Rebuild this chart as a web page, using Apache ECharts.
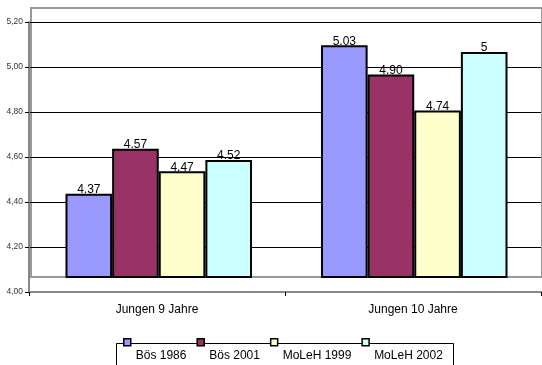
<!DOCTYPE html>
<html>
<head>
<meta charset="utf-8">
<script src="https://cdn.jsdelivr.net/npm/echarts@6/dist/echarts.min.js"></script>
<style>
  html, body { margin: 0; padding: 0; background: #fff; }
  #chart { width: 542px; height: 365px; }
</style>
</head>
<body>
<div id="chart"></div>
<script>
const categories = ['Jungen 9 Jahre', 'Jungen 10 Jahre'];
const seriesNames = ['Bös 1986', 'Bös 2001', 'MoLeH 1999', 'MoLeH 2002'];
const bos1986 = [4.37, 5.03];
const bos2001 = [4.57, 4.90];
const moleh1999 = [4.47, 4.74];
const moleh2002 = [4.52, 5];
// Beschriftungen wie im Original (4.90 mit Null, 5 ohne)
const bos1986Labels = ['4.37', '5.03'];
const bos2001Labels = ['4.57', '4.90'];
const moleh1999Labels = ['4.47', '4.74'];
const moleh2002Labels = ['4.52', '5'];
const yTicks = [4.0, 4.2, 4.4, 4.6, 4.8, 5.0, 5.2];

const colors = ['#9999FF', '#993366', '#FFFFCC', '#CCFFFF'];
const font = 'Liberation Sans, Arial, sans-serif';

const chart = echarts.init(document.getElementById('chart'));

// Pixel pro Einheit der sichtbaren Achse, Boden der Säulen liegt etwas höher (Excel-3D-Effekt)
const visTop = 22, visBottom = 292, floorY = 277, wallTop = 8;
const pxPerUnit = (visBottom - visTop) / (yTicks[yTicks.length - 1] - yTicks[0]);
const barMax = yTicks[0] + (floorY - wallTop) / pxPerUnit;

function makeSeries(name, data, labels, color) {
    return {
        name: name,
        type: 'bar',
        xAxisIndex: 1,
        yAxisIndex: 1,
        data: data,
        barGap: '0%',
        barCategoryGap: '27%',
        itemStyle: { color: color, borderColor: '#000', borderWidth: 2 },
        label: {
            show: true,
            position: 'top',
            distance: -2,
            color: '#000',
            fontSize: 12,
            fontFamily: font,
            formatter: p => labels[p.dataIndex]
        }
    };
}

const option = {
    animation: false,
    color: colors,
    textStyle: { fontFamily: font },
    grid: [
        { left: 29, right: 1, top: visTop, bottom: 365 - visBottom },
        { left: 31, right: -3, top: wallTop, bottom: 365 - floorY,
          show: true, borderColor: '#999', borderWidth: 2, backgroundColor: 'transparent' }
    ],
    xAxis: [
        {
            type: 'category', gridIndex: 0, data: categories,
            axisLine: { lineStyle: { color: '#888', width: 2 } },
            axisTick: { show: true, length: 4, lineStyle: { color: '#000' } },
            axisLabel: { color: '#000', fontSize: 12, margin: 12, fontFamily: font }
        },
        {
            type: 'category', gridIndex: 1, data: categories,
            show: false
        }
    ],
    yAxis: [
        {
            type: 'value', gridIndex: 0, min: 4, max: 5.2, interval: 0.2,
            axisLine: { show: true, lineStyle: { color: '#888', width: 2 } },
            axisTick: { show: true, length: 4, lineStyle: { color: '#000' } },
            axisLabel: { color: '#333', fontSize: 8.5, margin: 6, fontFamily: font,
                         formatter: v => v.toFixed(2).replace('.', ',') },
            splitLine: { show: true, lineStyle: { color: '#000', width: 1 } }
        },
        {
            type: 'value', gridIndex: 1, min: 4, max: barMax,
            show: false, splitLine: { show: false }
        }
    ],
    legend: {
        data: seriesNames,
        left: 123,
        top: 338,
        padding: 0,
        itemGap: 10,
        itemWidth: 7,
        itemHeight: 7,
        icon: 'rect',
        itemStyle: { borderColor: '#000', borderWidth: 1.5 },
        formatter: '{t|{name}}',
        textStyle: {
            color: '#000', fontSize: 12, fontFamily: font,
            rich: { t: { color: '#000', fontSize: 12, fontFamily: font, padding: [26, 0, 0, 0] } }
        }
    },
    graphic: [
        {
            type: 'rect', z: 1,
            shape: { x: 116.5, y: 343.5, width: 337, height: 40 },
            style: { fill: '#fff', stroke: '#000', lineWidth: 1 }
        }
    ],
    series: [
        makeSeries(seriesNames[0], bos1986, bos1986Labels, colors[0]),
        makeSeries(seriesNames[1], bos2001, bos2001Labels, colors[1]),
        makeSeries(seriesNames[2], moleh1999, moleh1999Labels, colors[2]),
        makeSeries(seriesNames[3], moleh2002, moleh2002Labels, colors[3])
    ]
};

chart.setOption(option);
</script>
</body>
</html>
